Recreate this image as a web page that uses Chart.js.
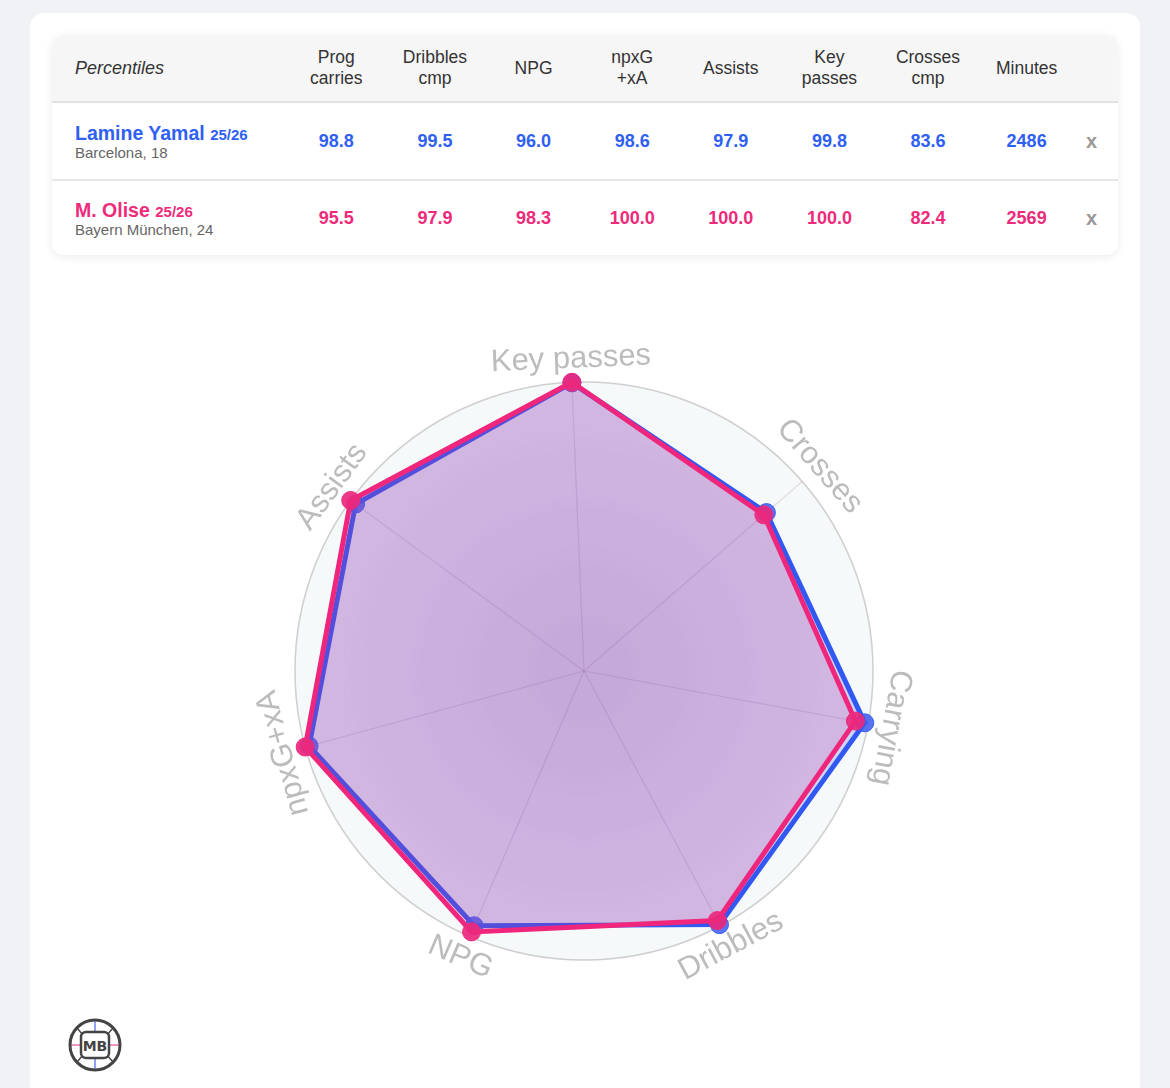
<!DOCTYPE html>
<html>
<head>
<meta charset="utf-8">
<script src="https://cdn.jsdelivr.net/npm/chart.js@4.4.0/dist/chart.umd.min.js"></script>
<style>
  html, body { margin: 0; padding: 0; }
  body {
    width: 1170px; height: 1088px; overflow: hidden;
    background: #f1f2f6; position: relative;
    font-family: "Liberation Sans", Arial, Helvetica, sans-serif;
  }
  .card {
    position: absolute; left: 30px; top: 13px; width: 1110px; height: 1100px;
    background: #fff; border-radius: 14px;
  }
  .tbl-wrap {
    position: absolute; left: 52px; top: 35px; width: 1066px;
    background: #fff; border-radius: 12px; overflow: hidden;
    box-shadow: 0 2px 10px rgba(0,0,0,0.08);
  }
  table { border-collapse: collapse; table-layout: fixed; width: 1066px; }
  th {
    background: #f6f6f6; font-weight: normal; color: #333; font-size: 17.5px;
    line-height: 21px; height: 66px; padding: 0; text-align: center;
    border-bottom: 2px solid #e2e2e2;
  }
  th.first { text-align: left; padding-left: 23px; font-style: italic; font-size: 18px; }
  td { height: 75px; padding: 0; padding-top: 1px; text-align: center; font-weight: bold; font-size: 18px; }
  tr.r1 td { border-bottom: 2px solid #e6e6e6; }
  tr.r2 td { height: 73px; }
  td.name { text-align: left; padding-left: 23px; }
  .nm { font-size: 19.5px; font-weight: bold; line-height: 20px; }
  .nm small { font-size: 15px; }
  .sub { font-size: 15px; font-weight: normal; color: #666; line-height: 16px; }
  td.x { color: #999; font-size: 20px; text-align: left; padding-left: 10px; font-weight: bold; }
  .chart-box { position: absolute; left: 254px; top: 341px; width: 660px; height: 660px; }
  .logo { position: absolute; left: 66px; top: 1016px; }
</style>
</head>
<body>
<div class="card"></div>
<div class="tbl-wrap">
  <table id="tbl"></table>
</div>
<div class="chart-box"><canvas id="radar"></canvas></div>
<svg class="logo" width="58" height="58" viewBox="0 0 58 58">
  <line x1="29" y1="4" x2="29" y2="17" stroke="#4466ee" stroke-width="1.2"/>
  <line x1="29" y1="41" x2="29" y2="54" stroke="#4466ee" stroke-width="1.2"/>
  <line x1="4" y1="29" x2="15" y2="29" stroke="#e64f96" stroke-width="1.2"/>
  <line x1="43" y1="29" x2="54" y2="29" stroke="#e64f96" stroke-width="1.2"/>
  <line x1="11" y1="12" x2="17" y2="19" stroke="#444" stroke-width="1.4"/>
  <line x1="47" y1="12" x2="41" y2="19" stroke="#444" stroke-width="1.4"/>
  <line x1="11" y1="46" x2="17" y2="39" stroke="#444" stroke-width="1.4"/>
  <line x1="47" y1="46" x2="41" y2="39" stroke="#444" stroke-width="1.4"/>
  <circle cx="29" cy="29" r="25" fill="none" stroke="#444" stroke-width="3"/>
  <rect x="15" y="16" width="28" height="26" rx="5" fill="#fff" stroke="#444" stroke-width="2.5"/>
  <text x="29" y="35" text-anchor="middle" font-family="DejaVu Sans" font-weight="bold" font-size="14" fill="#444">MB</text>
</svg>

<script>
// table data
const tableHeaders = ["Prog<br>carries", "Dribbles<br>cmp", "NPG", "npxG<br>+xA", "Assists", "Key<br>passes", "Crosses<br>cmp", "Minutes"];
const playerNames = ["Lamine Yamal", "M. Olise"];
const playerSeasons = ["25/26", "25/26"];
const playerInfo = ["Barcelona, 18", "Bayern München, 24"];
const yamalRow = ["98.8", "99.5", "96.0", "98.6", "97.9", "99.8", "83.6", "2486"];
const oliseRow = ["95.5", "97.9", "98.3", "100.0", "100.0", "100.0", "82.4", "2569"];
const playerColors = ["#2f5ff3", "#ee2a7b"];

// radar data
const axisLabels = ["Key passes", "Crosses", "Carrying", "Dribbles", "NPG", "npxG+xA", "Assists"];
const yamalValues = [99.8, 83.6, 98.8, 99.5, 96.0, 98.6, 97.9];
const oliseValues = [100, 82.4, 95.5, 97.9, 98.3, 100, 100];

// build the table
let html = '<colgroup><col style="width:235px">';
for (let i = 0; i < tableHeaders.length; i++) html += '<col style="width:98.6px">';
html += '<col style="width:42px"></colgroup>';
html += '<tr><th class="first">Percentiles</th>';
tableHeaders.forEach(h => { html += '<th>' + h + '</th>'; });
html += '<th></th></tr>';
[yamalRow, oliseRow].forEach((row, i) => {
  html += '<tr class="r' + (i + 1) + '"><td class="name"><div class="nm" style="color:' + playerColors[i] + '">' +
    playerNames[i] + ' <small>' + playerSeasons[i] + '</small></div><div class="sub">' + playerInfo[i] + '</div></td>';
  row.forEach(v => { html += '<td style="color:' + playerColors[i] + '">' + v + '</td>'; });
  html += '<td class="x">x</td></tr>';
});
document.getElementById("tbl").innerHTML = html;

// soft shaded rings inside the radar
const ringPlugin = {
  id: "rings",
  beforeDatasetsDraw(chart) {
    const s = chart.scales.r;
    const ctx = chart.ctx;
    ctx.save();
    ctx.filter = "blur(7px)";
    ctx.fillStyle = "rgba(80,60,150,0.028)";
    [80, 60, 40, 20].forEach(v => {
      const r = s.getDistanceFromCenterForValue(v);
      ctx.beginPath();
      ctx.arc(s.xCenter, s.yCenter, r, 0, Math.PI * 2);
      ctx.fill();
    });
    ctx.restore();
  }
};

// rotated point labels around the circle
const labelPlugin = {
  id: "curvedLabels",
  afterDraw(chart) {
    const s = chart.scales.r;
    const ctx = chart.ctx;
    ctx.save();
    ctx.font = "31px 'Liberation Sans', Arial, sans-serif";
    ctx.fillStyle = "#bcbcbc";
    ctx.textAlign = "center";
    ctx.textBaseline = "middle";
    chart.data.labels.forEach((lab, i) => {
      const p = s.getPointPosition(i, s.drawingArea + 23);
      let deg = (s.getIndexAngle(i) * 180 / Math.PI) % 360;
      if (deg < 0) deg += 360;
      let rot = deg;
      if (deg > 120 && deg < 240) rot = deg - 180;
      ctx.save();
      ctx.translate(p.x, p.y);
      ctx.rotate(rot * Math.PI / 180);
      ctx.fillText(lab, 0, 0);
      ctx.restore();
    });
    ctx.restore();
  }
};

new Chart(document.getElementById("radar"), {
  type: "radar",
  data: {
    labels: axisLabels,
    datasets: [
      {
        label: "Lamine Yamal",
        data: yamalValues,
        borderColor: "#3158f2",
        backgroundColor: "rgba(60,90,240,0.22)",
        pointBackgroundColor: "rgba(60,90,240,0.85)",
        pointBorderColor: "#3a5ff0",
        borderWidth: 5,
        pointRadius: 9,
        pointBorderWidth: 1,
        fill: true,
        order: 1
      },
      {
        label: "M. Olise",
        data: oliseValues,
        borderColor: "#f0267c",
        backgroundColor: "rgba(240,40,125,0.18)",
        pointBackgroundColor: "rgba(236,40,125,0.92)",
        pointBorderColor: "#ee2a7b",
        borderWidth: 5,
        pointRadius: 9,
        pointBorderWidth: 1,
        fill: true,
        order: 0
      }
    ]
  },
  options: {
    responsive: true,
    maintainAspectRatio: false,
    animation: false,
    layout: { padding: 41 },
    plugins: { legend: { display: false }, tooltip: { enabled: false } },
    scales: {
      r: {
        min: 0,
        max: 100,
        startAngle: -2.4,
        backgroundColor: "#f5f9fa",
        ticks: { display: false, stepSize: 20 },
        pointLabels: { display: false },
        angleLines: { color: "rgba(120,60,120,0.16)", lineWidth: 1.2 },
        grid: {
          circular: true,
          color: ctx => ctx.tick && ctx.tick.value === 100 ? "#cfcfcf" : "rgba(0,0,0,0)",
          lineWidth: 1.5
        }
      }
    }
  },
  plugins: [ringPlugin, labelPlugin]
});
</script>
</body>
</html>
